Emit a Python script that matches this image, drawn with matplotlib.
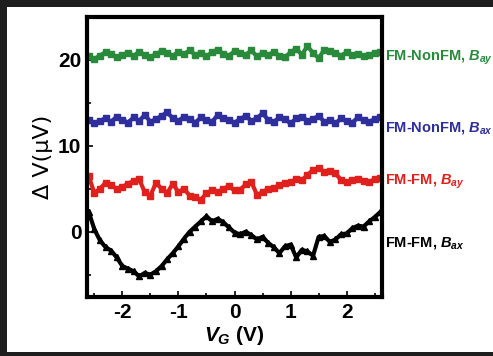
import matplotlib
matplotlib.use("Agg")
import matplotlib.pyplot as plt
from matplotlib.patches import Rectangle
import numpy as np

plt.rcParams['font.family'] = ['Liberation Sans', 'DejaVu Sans']
plt.rcParams['axes.unicode_minus'] = False
plt.rcParams['mathtext.fontset'] = 'custom'
plt.rcParams['mathtext.it'] = 'Liberation Sans:italic:bold'
plt.rcParams['mathtext.rm'] = 'Liberation Sans:bold'

# gate voltage sweep, 0.1 V steps
vg = np.round(np.arange(-2.6, 2.65, 0.1), 1)

green_nonfm_ay = [20.4, 20.1, 20.5, 20.9, 20.7, 20.3, 20.6, 20.8, 20.5, 20.9,
                  20.6, 20.3, 20.7, 21.0, 20.8, 20.5, 20.9, 20.7, 21.1, 20.6,
                  20.8, 20.4, 20.9, 21.2, 20.7, 20.5, 21.0, 20.8, 20.6, 21.1,
                  20.4, 20.8, 20.6, 20.9, 20.5, 20.3, 20.9, 21.3, 20.6, 21.6,
                  20.8, 20.2, 21.2, 21.0, 20.8, 20.5, 20.9, 20.6, 20.7, 20.4,
                  20.6, 20.8, 20.9]
blue_nonfm_ax = [13.0, 12.6, 12.9, 13.2, 12.8, 13.4, 13.0, 12.7, 13.3, 12.9,
                 13.6, 12.8, 13.1, 13.5, 13.9, 13.2, 12.9, 13.4, 13.1, 12.7,
                 13.3, 13.0, 12.8, 13.6, 13.2, 13.0, 12.7, 13.1, 13.5, 12.9,
                 13.2, 13.8, 13.0, 12.8, 13.3, 13.1, 12.6, 13.2, 13.4, 12.9,
                 13.1, 13.5, 12.8, 13.0, 12.6, 13.2, 12.9, 12.7, 13.3, 13.0,
                 12.8, 13.1, 13.4]
red_fm_ay = [6.5, 4.5, 5.0, 5.7, 5.4, 5.0, 5.2, 5.6, 5.9, 6.1,
             4.6, 4.2, 5.7, 5.0, 4.5, 5.6, 4.6, 5.0, 4.2, 4.0,
             3.7, 4.5, 4.8, 4.6, 5.0, 5.3, 4.8, 4.9, 5.5, 5.8,
             4.3, 4.6, 5.0, 5.1, 5.4, 5.7, 5.8, 6.1, 6.0, 6.6,
             7.2, 7.4, 7.0, 7.1, 6.8, 6.0, 5.8, 6.0, 6.1, 5.9,
             5.8, 6.1, 6.2]
black_fm_ax = [2.3, 0.3, -1.0, -1.8, -2.2, -3.0, -4.0, -4.3, -4.6, -5.2,
               -4.8, -5.0, -4.6, -4.0, -3.2, -2.5, -1.7, -0.8, 0.0, 0.6,
               1.2, 1.8, 1.2, 1.5, 1.1, 0.5, -0.1, -0.3, 0.0, -0.4,
               -0.9, -0.6, -1.3, -1.8, -2.5, -1.7, -1.5, -3.0, -2.1, -2.3,
               -2.8, -0.6, -0.5, -1.2, -0.9, -0.3, -0.2, 0.4, 0.7, 0.6,
               1.2, 1.7, 2.3]

series = [
    (green_nonfm_ay, '#2a8a3c', 's', r'FM-NonFM, $B_{ay}$', 20.3),
    (blue_nonfm_ax, '#2e2e9c', 's', r'FM-NonFM, $B_{ax}$', 12.1),
    (red_fm_ay, '#e0201c', 's', r'FM-FM, $B_{ay}$', 5.8),
    (black_fm_ax, '#000000', '^', r'FM-FM, $B_{ax}$', -1.3),
]

fig = plt.figure(figsize=(4.9305, 3.5605), dpi=100)
fig.patch.set_facecolor('white')
# dark photo border: top, left, bottom strips
for r in [(0, 1 - 7 / 356, 1, 7 / 356), (0, 0, 7 / 493, 1), (0, 0, 1, 4 / 356)]:
    fig.add_artist(Rectangle(r[:2], r[2], r[3], transform=fig.transFigure,
                             facecolor='#1e1e1e', edgecolor='none', zorder=0))

ax = fig.add_axes([87 / 493, 1 - 297 / 356, 295 / 493, 280 / 356])
ax.set_facecolor('white')

for vals, col, mk, lab, ylab in series:
    ax.plot(vg, vals, color=col, lw=3, marker=mk, ms=4, mec=col, mfc=col)
    ax.annotate(lab, xy=(1.01, ylab), xycoords=('axes fraction', 'data'),
                color=col, fontsize=10.5, fontweight='bold', va='center',
                ha='left', annotation_clip=False)

ax.set_xlim(-2.63, 2.63)
ax.set_ylim(-7.6, 25)
ax.set_xticks([-2, -1, 0, 1, 2])
ax.set_xticks(np.arange(-2.5, 2.6, 0.5), minor=True)
ax.set_yticks([0, 10, 20])
ax.set_yticks([-5, 5, 15], minor=True)
ax.tick_params(axis='both', which='both', direction='in', labelsize=15, width=1.2)
ax.tick_params(axis='both', which='major', length=4, pad=4)
ax.tick_params(axis='both', which='minor', length=3)
for t in ax.get_xticklabels() + ax.get_yticklabels():
    t.set_fontweight('bold')
for s in ax.spines.values():
    s.set_linewidth(3)

ax.set_xlabel(r'$V_G$ (V)', fontsize=15, fontweight='bold', labelpad=2)
ax.set_ylabel('Δ V(μV)', fontsize=16, labelpad=4, family=['DejaVu Sans'])

fig.savefig('out.png', dpi=100, facecolor=fig.get_facecolor())
